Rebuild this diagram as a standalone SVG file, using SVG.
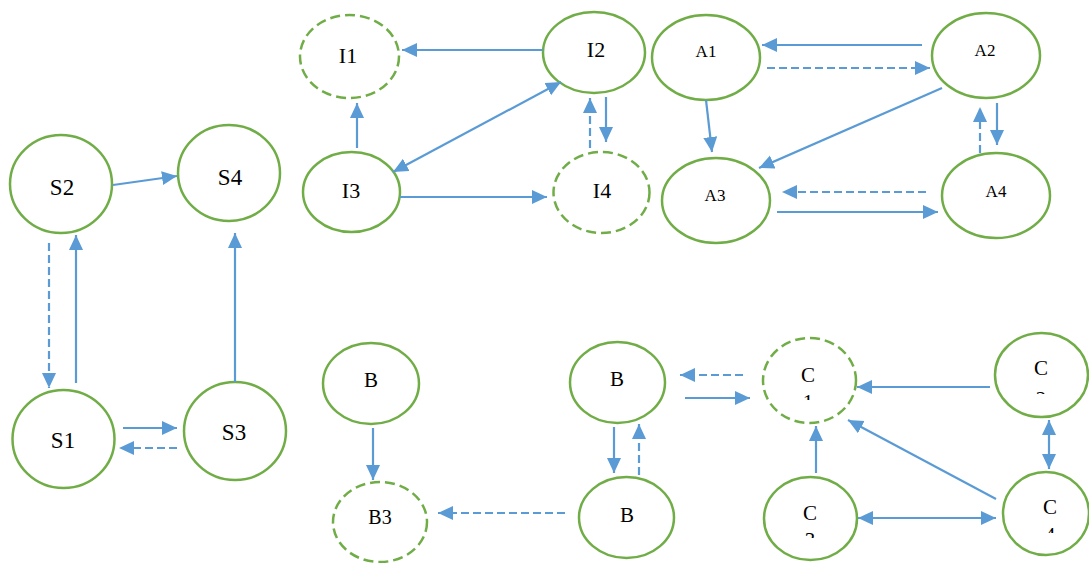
<svg xmlns="http://www.w3.org/2000/svg" width="1089" height="563" viewBox="0 0 1089 563">
<style>
.n{fill:none;stroke:#70AD47;stroke-width:2.5}
.d{stroke-dasharray:10 5}
.t{font-family:"Liberation Serif","Times New Roman",serif;fill:#000;text-anchor:middle}
.c{fill:none;stroke:#5B9BD5;stroke-width:2.2}
.cd{stroke-dasharray:8 4}
</style>
<defs>
<marker id="ah" markerUnits="userSpaceOnUse" markerWidth="16" markerHeight="15" refX="15" refY="7" orient="auto-start-reverse" viewBox="0 0 16 15">
<path d="M0,0 L15,7 L0,14 z" fill="#5B9BD5"/>
</marker>
<clipPath id="k1"><rect x="760" y="340" width="100" height="60"/></clipPath>
<clipPath id="k2"><rect x="995" y="335" width="94" height="59"/></clipPath>
<clipPath id="k3"><rect x="764" y="480" width="94" height="58"/></clipPath>
<clipPath id="k4"><rect x="1004" y="474" width="85" height="59"/></clipPath>
</defs>
<rect width="1089" height="563" fill="#fff"/>
<g id="S2"><ellipse class="n" cx="61" cy="184" rx="51" ry="49"/><text class="t" x="62" y="195" font-size="23">S2</text></g>
<g id="S4"><ellipse class="n" cx="229" cy="173" rx="51" ry="48"/><text class="t" x="230" y="185" font-size="23">S4</text></g>
<g id="S1"><ellipse class="n" cx="63.5" cy="439" rx="51" ry="49"/><text class="t" x="63" y="448" font-size="23">S1</text></g>
<g id="S3"><ellipse class="n" cx="235" cy="431" rx="51" ry="49"/><text class="t" x="234" y="440" font-size="23">S3</text></g>
<g id="I1"><ellipse class="n d" cx="349.5" cy="56.5" rx="49.5" ry="41.5"/><text class="t" x="348" y="63" font-size="22">I1</text></g>
<g id="I2"><ellipse class="n" cx="594" cy="52.5" rx="51" ry="40.5"/><text class="t" x="596" y="57" font-size="22">I2</text></g>
<g id="I3"><ellipse class="n" cx="351.5" cy="192" rx="48.5" ry="40"/><text class="t" x="351" y="198" font-size="22">I3</text></g>
<g id="I4"><ellipse class="n d" cx="601.5" cy="192.5" rx="48" ry="40.5"/><text class="t" x="602" y="198" font-size="22">I4</text></g>
<g id="A1"><ellipse class="n" cx="706" cy="57.5" rx="54" ry="42.5"/><text class="t" x="706" y="57" font-size="17">A1</text></g>
<g id="A2"><ellipse class="n" cx="986" cy="55.5" rx="54" ry="42.5"/><text class="t" x="985" y="56" font-size="17">A2</text></g>
<g id="A3"><ellipse class="n" cx="716" cy="200.5" rx="54" ry="42.5"/><text class="t" x="715" y="201" font-size="17">A3</text></g>
<g id="A4"><ellipse class="n" cx="996" cy="195.5" rx="54" ry="42.5"/><text class="t" x="996" y="197" font-size="17">A4</text></g>
<g id="B-top-left"><ellipse class="n" cx="371" cy="383.5" rx="48" ry="40.5"/><text class="t" x="371" y="387" font-size="21">B</text></g>
<g id="B3"><ellipse class="n d" cx="380" cy="522" rx="47" ry="40"/><text class="t" x="380" y="524" font-size="20">B3</text></g>
<g id="B-top-right"><ellipse class="n" cx="617.5" cy="382.5" rx="47.5" ry="40.5"/><text class="t" x="617" y="386" font-size="21">B</text></g>
<g id="B-bottom"><ellipse class="n" cx="626.5" cy="517.5" rx="47.5" ry="40.5"/><text class="t" x="627" y="522" font-size="21">B</text></g>
<g id="C1"><ellipse class="n d" cx="809.5" cy="380.5" rx="46.5" ry="42.5"/><text class="t" x="808" y="382" font-size="21" clip-path="url(#k1)">C<tspan x="808" dy="27">1</tspan></text></g>
<g id="C2"><ellipse class="n" cx="1041.5" cy="375" rx="46.5" ry="42"/><text class="t" x="1041" y="375" font-size="21" clip-path="url(#k2)">C<tspan x="1041" dy="31">2</tspan></text></g>
<g id="C3"><ellipse class="n" cx="810.5" cy="518.5" rx="46.5" ry="41.5"/><text class="t" x="810" y="520" font-size="21" clip-path="url(#k3)">C<tspan x="810" dy="27">3</tspan></text></g>
<g id="C4"><ellipse class="n" cx="1046" cy="513.5" rx="43" ry="41.5"/><text class="t" x="1050" y="514" font-size="21" clip-path="url(#k4)">C<tspan x="1050" dy="28">4</tspan></text></g>
<g id="connectors">
<line class="c" x1="113" y1="185" x2="177" y2="176" marker-end="url(#ah)"/>
<line class="c cd" x1="49" y1="243" x2="49" y2="388" marker-end="url(#ah)"/>
<line class="c" x1="76" y1="383" x2="76" y2="235" marker-end="url(#ah)"/>
<line class="c" x1="235" y1="382" x2="235" y2="233" marker-end="url(#ah)"/>
<line class="c" x1="123" y1="428" x2="177" y2="428" marker-end="url(#ah)"/>
<line class="c cd" x1="177" y1="448" x2="119" y2="448" marker-end="url(#ah)"/>
<line class="c" x1="543" y1="50" x2="402" y2="50" marker-end="url(#ah)"/>
<line class="c" x1="357" y1="148" x2="357" y2="103" marker-end="url(#ah)"/>
<line class="c" x1="393" y1="172" x2="561" y2="82" marker-start="url(#ah)" marker-end="url(#ah)"/>
<line class="c" x1="400" y1="197" x2="547" y2="197" marker-end="url(#ah)"/>
<line class="c" x1="606" y1="97" x2="606" y2="142" marker-end="url(#ah)"/>
<line class="c cd" x1="590" y1="148" x2="590" y2="98" marker-end="url(#ah)"/>
<line class="c" x1="922" y1="45" x2="762" y2="45" marker-end="url(#ah)"/>
<line class="c cd" x1="767" y1="68" x2="930" y2="68" marker-end="url(#ah)"/>
<line class="c" x1="706" y1="100" x2="712" y2="152" marker-end="url(#ah)"/>
<line class="c" x1="942" y1="88" x2="759" y2="168" marker-end="url(#ah)"/>
<line class="c" x1="997" y1="103" x2="997" y2="145" marker-end="url(#ah)"/>
<line class="c cd" x1="980" y1="153" x2="980" y2="107" marker-end="url(#ah)"/>
<line class="c cd" x1="926" y1="192" x2="782" y2="192" marker-end="url(#ah)"/>
<line class="c" x1="777" y1="212" x2="938" y2="212" marker-end="url(#ah)"/>
<line class="c" x1="373" y1="428" x2="373" y2="480" marker-end="url(#ah)"/>
<line class="c cd" x1="565" y1="513" x2="438" y2="513" marker-end="url(#ah)"/>
<line class="c" x1="614" y1="427" x2="614" y2="473" marker-end="url(#ah)"/>
<line class="c cd" x1="639" y1="475" x2="639" y2="424" marker-end="url(#ah)"/>
<line class="c cd" x1="743" y1="375" x2="680" y2="375" marker-end="url(#ah)"/>
<line class="c" x1="685" y1="398" x2="750" y2="398" marker-end="url(#ah)"/>
<line class="c" x1="990" y1="387" x2="857" y2="387" marker-end="url(#ah)"/>
<line class="c" x1="816" y1="473" x2="816" y2="426" marker-end="url(#ah)"/>
<line class="c" x1="996" y1="499" x2="848" y2="420" marker-end="url(#ah)"/>
<line class="c" x1="858" y1="518" x2="996" y2="518" marker-start="url(#ah)" marker-end="url(#ah)"/>
<line class="c" x1="1049" y1="420" x2="1049" y2="469" marker-start="url(#ah)" marker-end="url(#ah)"/>
</g>
</svg>
